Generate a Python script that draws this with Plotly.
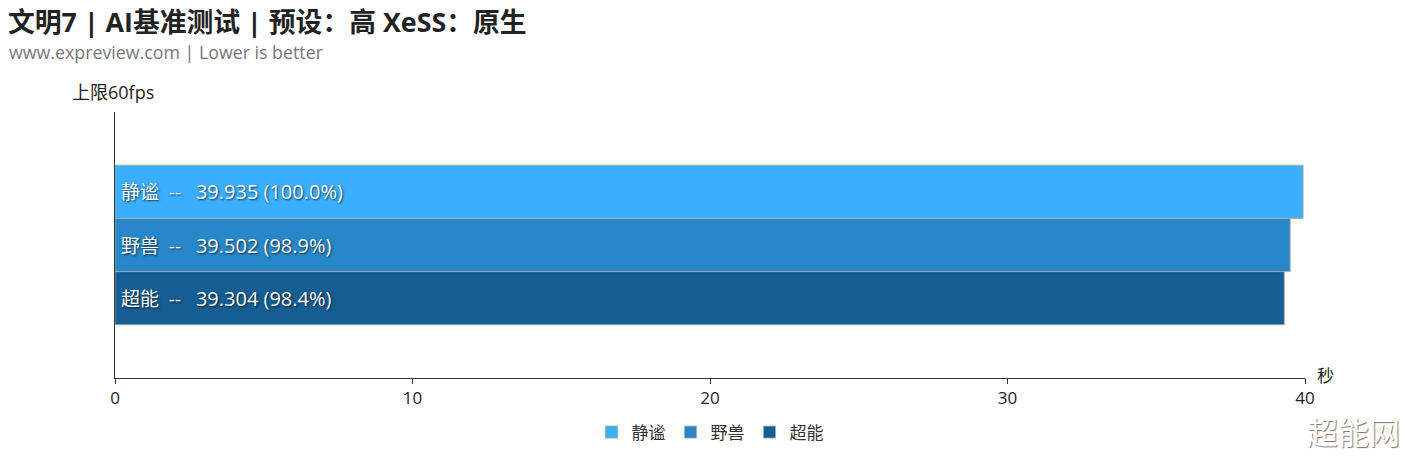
import plotly.graph_objects as go

names = ["静谧", "野兽", "超能"]
values = [39.935, 39.502, 39.304]
percents = ["100.0%", "98.9%", "98.4%"]
colors = ["#3AAEFF", "#2787C9", "#155E93"]
x_ticks = [0, 10, 20, 30, 40]

FONT = "Open Sans, Noto Sans CJK SC, sans-serif"
NB = "\u00a0"

PW, PH = 1190, 266

fig = go.Figure()
for i, (n, v, c) in enumerate(zip(names, values, colors)):
    fig.add_trace(go.Bar(
        x=[v], y=[i], orientation="h", name=n, width=1.0,
        marker=dict(color=c, line=dict(color="rgba(170,170,170,0.9)", width=1)),
        hoverinfo="x+name",
    ))
    fig.add_annotation(
        x=0, y=i, xref="x", yref="y", xanchor="left", yanchor="middle",
        xshift=4, showarrow=False,
        text=(f"{n}{NB}{NB}--{NB}{NB}{NB}"
              f"<span style='font-size:20px'>{v:.3f} ({percents[i]})</span>"),
        font=dict(family=FONT, size=19, color="white",
                  shadow="1px 1px 2px rgba(0,0,0,0.7)"),
    )

fig.update_layout(
    width=1420, height=472,
    margin=dict(l=115, r=115, t=112, b=94),
    paper_bgcolor="white", plot_bgcolor="white",
    barmode="overlay",
    font=dict(family=FONT, size=16, color="#222"),
    showlegend=True,
    legend=dict(orientation="h", x=0.5, xanchor="center", y=-0.205, yanchor="middle",
                font=dict(size=17, color="#333"), itemwidth=30, traceorder="normal"),
    xaxis=dict(range=[0, 40], tickvals=x_ticks, ticks="outside", ticklen=5,
               tickcolor="#333", showline=True, linecolor="#333", linewidth=1,
               showgrid=False, zeroline=False, tickfont=dict(size=17, color="#222")),
    yaxis=dict(range=[3.5, -1.5], showticklabels=False, ticks="", showline=True,
               linecolor="#333", linewidth=1, showgrid=False, zeroline=False),
)

# Title and subtitle
fig.add_annotation(xref="paper", yref="paper", x=-108/PW, y=1 + 91/PH,
                   xanchor="left", yanchor="middle", showarrow=False, borderpad=0,
                   text="<b>文明7 | AI基准测试 | 预设：高 XeSS：原生</b>",
                   font=dict(family=FONT, size=26.8, color="#222"))
fig.add_annotation(xref="paper", yref="paper", x=-108/PW, y=1 + 60/PH,
                   xanchor="left", yanchor="middle", showarrow=False,
                   text="www.expreview.com | Lower is better",
                   font=dict(family=FONT, size=17.8, color="#777"))
# axis names
fig.add_annotation(xref="paper", yref="paper", x=-45/PW, y=1 + 20/PH,
                   xanchor="left", yanchor="middle", showarrow=False,
                   text="上限60fps", font=dict(family=FONT, size=18, color="#222"))
fig.add_annotation(xref="paper", yref="paper", x=1 + 10/PW, y=0,
                   xanchor="left", yanchor="middle", yshift=3, showarrow=False,
                   text="秒", font=dict(family=FONT, size=17, color="#222"))
# watermark
fig.add_annotation(xref="paper", yref="paper", x=1 + 97/PW, y=-54/PH,
                   xanchor="right", yanchor="middle", showarrow=False,
                   text="超能网", font=dict(family=FONT, size=31, color="#ffffff",
                                         shadow="1px 1px 1px #777"))

fig.write_html("out.html", config={"displayModeBar": False},
               post_script="document.body.style.margin='0';")
